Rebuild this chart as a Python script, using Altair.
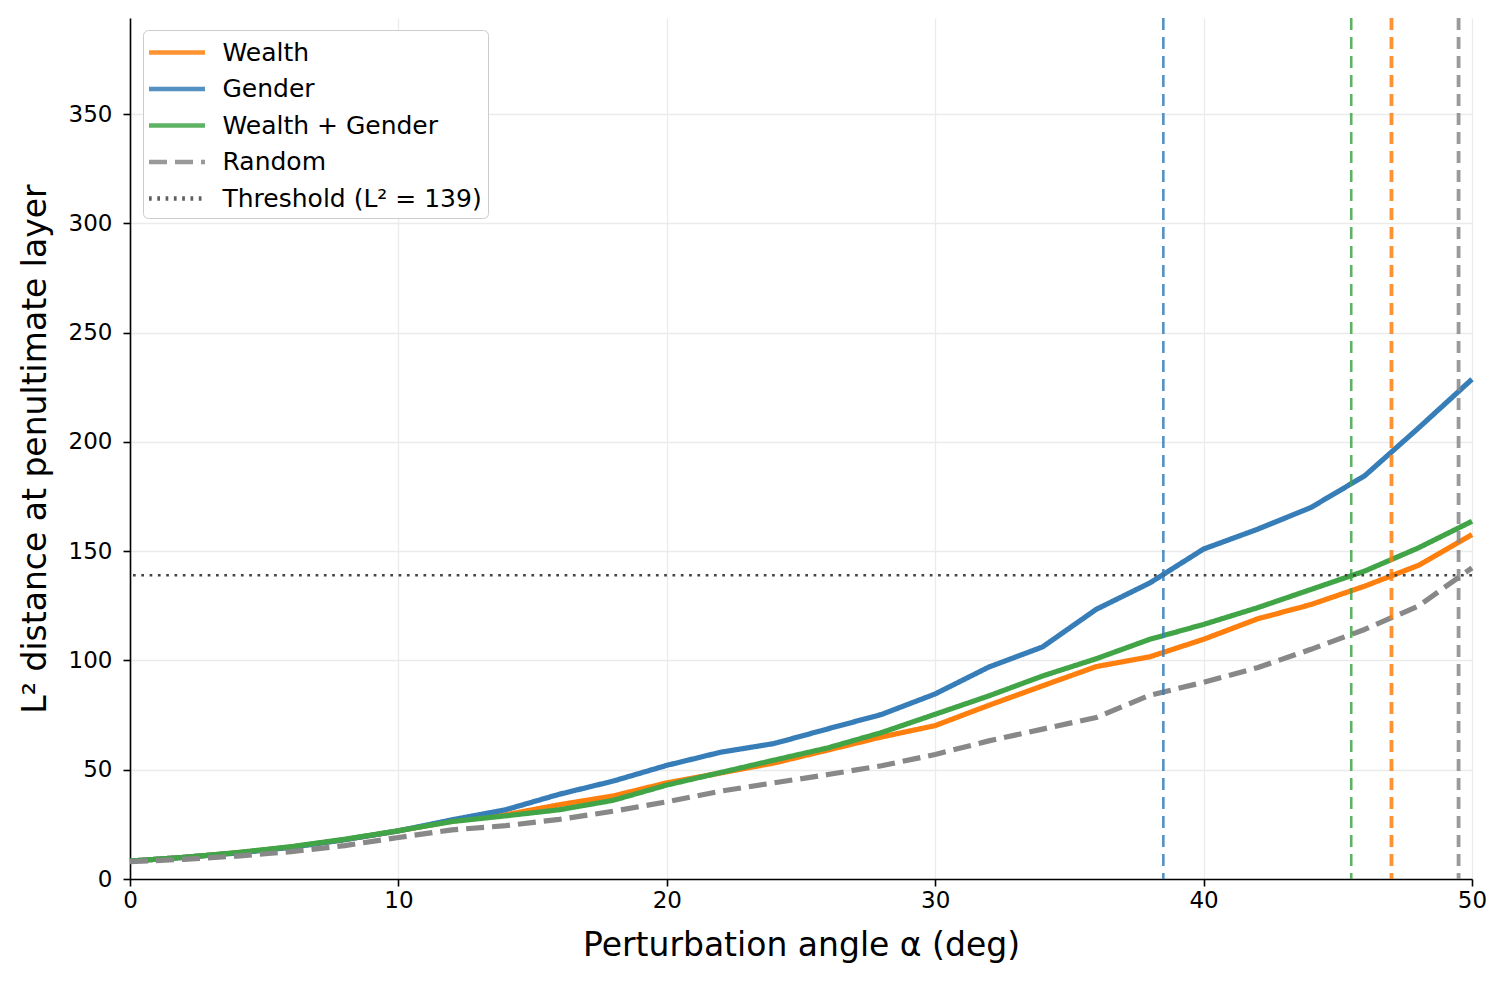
import altair as alt
import pandas as pd

# ---- data ----
angles = [0, 2, 4, 6, 8, 10, 12, 14, 16, 18, 20, 22, 24, 26, 28, 30,
          32, 34, 36, 38, 40, 42, 44, 46, 48, 50]
wealth = [8.2, 9.9, 12.0, 14.6, 18.0, 22.0, 26.5, 29.4, 34.0, 38.0, 44.0,
          48.5, 53.1, 59.0, 65.0, 70.2, 79.5, 88.4, 97.2, 101.7, 109.7,
          119.0, 125.6, 134.0, 143.5, 157.6]
gender = [8.2, 9.9, 11.9, 14.5, 18.0, 22.0, 27.1, 31.7, 38.8, 44.8, 52.0,
          58.0, 62.0, 68.7, 75.3, 84.7, 97.0, 106.2, 123.4, 135.5, 151.0,
          160.0, 170.0, 184.5, 206.3, 228.7]
wealth_gender = [8.2, 9.9, 12.1, 14.8, 18.2, 22.1, 26.3, 28.9, 31.7, 36.0,
                 43.0, 48.7, 54.4, 60.0, 67.0, 75.4, 83.8, 92.9, 100.8, 109.7,
                 116.5, 124.1, 132.5, 140.9, 151.5, 163.7]
random_dir = [7.9, 9.0, 10.5, 12.5, 15.3, 19.0, 22.5, 24.4, 27.3, 31.0,
              35.3, 40.2, 44.0, 47.8, 51.8, 57.0, 63.2, 68.6, 73.9, 84.1,
              90.0, 96.7, 105.1, 114.2, 124.9, 142.4]

threshold_value = 139
threshold_label = "Threshold (L² = 139)"

series_names = ["Wealth", "Gender", "Wealth + Gender", "Random", threshold_label]
series_colors = ["#ff7f0e", "#377eb8", "#41a548", "#888888", "#444444"]
series_dashes = [[1, 0], [1, 0], [1, 0], [18, 8], [2.7, 5.6]]

cross_series = ["Gender", "Wealth + Gender", "Wealth", "Random"]
cross_angles = [38.5, 45.5, 47.0, 49.5]

x_ticks = [0, 10, 20, 30, 40, 50]
y_ticks = [0, 50, 100, 150, 200, 250, 300, 350]

# ---- tables ----
curve_values = {"Wealth": wealth, "Gender": gender,
                "Wealth + Gender": wealth_gender, "Random": random_dir}
rows = []
for name, vals in curve_values.items():
    for a, v in zip(angles, vals):
        rows.append({"series": name, "angle": a, "value": v})
curves = pd.DataFrame(rows)
thresh_df = pd.DataFrame({"series": [threshold_label], "value": [threshold_value]})
cross_df = pd.DataFrame({"series": cross_series, "angle": cross_angles})

color_scale = alt.Scale(domain=series_names, range=series_colors)
dash_scale = alt.Scale(domain=series_names, range=series_dashes)

x_axis = alt.Axis(values=x_ticks, title="Perturbation angle α (deg)", orient="bottom",
                  labelPadding=3, titlePadding=17, labelFlush=False)
y_axis = alt.Axis(values=y_ticks, title="L² distance at penultimate layer", orient="left",
                  labelPadding=11, titlePadding=16, labelFlush=False)
x_scale = alt.Scale(domain=[0, 50], nice=False)
y_scale = alt.Scale(domain=[0, 394], nice=False)

color_enc = alt.Color("series:N", scale=color_scale, title=None)
dash_enc = alt.StrokeDash("series:N", scale=dash_scale, title=None)

lines = alt.Chart(curves).mark_line(strokeWidth=5.2, strokeJoin="round").encode(
    x=alt.X("angle:Q", scale=x_scale, axis=x_axis),
    y=alt.Y("value:Q", scale=y_scale, axis=y_axis),
    color=color_enc, strokeDash=dash_enc,
)

thresh = alt.Chart(thresh_df).mark_rule(strokeWidth=2.5).encode(
    y=alt.Y("value:Q", scale=y_scale, axis=y_axis),
    color=color_enc, strokeDash=dash_enc,
)

vthin = alt.Chart(cross_df).transform_filter(
    alt.FieldOneOfPredicate(field="series", oneOf=["Gender", "Wealth + Gender"])
).mark_rule(strokeWidth=2.6, opacity=0.85, strokeDash=[12, 7]).encode(
    x=alt.X("angle:Q", scale=x_scale, axis=x_axis), color=color_enc,
)

vthick = alt.Chart(cross_df).transform_filter(
    alt.FieldOneOfPredicate(field="series", oneOf=["Wealth", "Random"])
).mark_rule(strokeWidth=3.8, opacity=0.85, strokeDash=[12, 7]).encode(
    x=alt.X("angle:Q", scale=x_scale, axis=x_axis), color=color_enc,
)

chart = alt.layer(lines, thresh, vthin, vthick).properties(
    width=1342, height=861,
    autosize=alt.AutoSizeParams(type="none"),
    padding={"left": 122, "top": 10, "right": 20, "bottom": 90},
    background="white",
).configure_view(
    stroke=None
).configure_axis(
    labelFont="DejaVu Sans", titleFont="DejaVu Sans",
    labelFontSize=23, titleFontSize=33, titleFontWeight="normal",
    labelColor="black", titleColor="black",
    domainColor="black", domainWidth=1.6,
    tickColor="black", tickWidth=1.6, tickSize=7,
    gridColor="#ebebeb", gridWidth=1.3,
).configure_legend(
    orient="none", legendX=13, legendY=12,
    fillColor="white", strokeColor="#cccccc", cornerRadius=5, padding=6,
    symbolType="M-2,0H2", symbolSize=784, symbolOffset=11.5, symbolStrokeWidth=4.5,
    labelFont="DejaVu Sans", labelFontSize=25, labelColor="black",
    labelOffset=29, rowPadding=6.5, labelLimit=400,
)

chart.save("out.html", embed_options={"renderer": "svg", "actions": False})
